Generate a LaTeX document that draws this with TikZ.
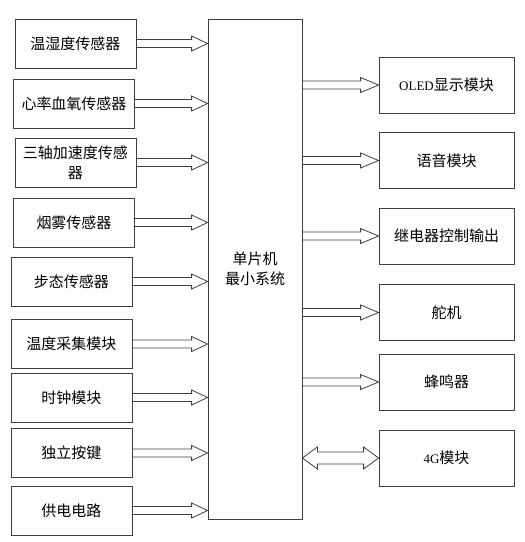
\documentclass[tikz,border=0pt]{standalone}
\usepackage{fontspec}
\setmainfont{Liberation Serif}
\newfontfamily\cjk{Noto Sans CJK SC}
\usetikzlibrary{calc}
\tikzstyle{box}=[draw=black!75, line width=0.8pt, inner sep=0pt, align=center, font=\cjk\fontsize{15}{20}\selectfont]
\tikzstyle{fat}=[draw=black!75, line width=0.8pt, line join=miter]
\newcommand{\fatarrow}[3]{%
 \draw[fat] let \p1=(#1), \p2=(#2) in
  (\x1,\y1+4pt) -- (\x2-#3,\y1+4pt) -- (\x2-#3,\y1+7.5pt) -- (\x2,\y1)
  -- (\x2-#3,\y1-7.5pt) -- (\x2-#3,\y1-4pt) -- (\x1,\y1-4pt);}
\newcommand{\dblarrow}[2]{%
 \draw[fat] let \p1=(#1), \p2=(#2) in
  (\x1,\y1) -- (\x1+15pt,\y1+11pt) -- (\x1+15pt,\y1+6pt) -- (\x2-15pt,\y1+6pt)
  -- (\x2-15pt,\y1+11pt) -- (\x2,\y1) -- (\x2-15pt,\y1-11pt) -- (\x2-15pt,\y1-6pt)
  -- (\x1+15pt,\y1-6pt) -- (\x1+15pt,\y1-11pt) -- cycle;}
\begin{document}
\begin{tikzpicture}[x=1pt,y=-1pt]
\useasboundingbox (0,0) rectangle (525,542);
\node[box, minimum width=94pt, minimum height=500pt] (mcu) at (255,269) {单片机\\最小系统};
% inputs
\foreach \i/\px/\py/\t in {1/75.5/43.5/温湿度传感器, 2/74/103.5/心率血氧传感器,
  3/75.5/162.5/{三轴加速度传感\\器}, 4/74/222.5/烟雾传感器, 5/71.5/281.5/步态传感器,
  6/71.5/344/温度采集模块, 7/71.5/397.5/时钟模块, 8/71.5/453/独立按键, 9/71.5/510.5/供电电路} {
 \node[box, minimum width=121pt, minimum height=49pt] (in\i) at (\px,\py) {\t};
 \coordinate (ti\i) at (in\i.east -| mcu.west);
 \fatarrow{in\i.east}{ti\i}{16pt}
}
% outputs
\foreach \i/\py/\t in {1/85/{{\rmfamily\fontsize{13}{15}\selectfont OLED}显示模块}, 2/160.5/语音模块,
  3/236/继电器控制输出, 4/312.5/舵机, 5/382/蜂鸣器} {
 \node[box, minimum width=135pt, minimum height=56pt] (out\i) at (446.5,\py) {\t};
 \coordinate (so\i) at (mcu.east |- out\i.west);
 \fatarrow{so\i}{out\i.west}{18pt}
}
\node[box, minimum width=135pt, minimum height=56pt] (out6) at (446.5,458) {{\rmfamily\fontsize{13}{15}\selectfont 4G}模块};
\coordinate (so6) at (mcu.east |- out6.west);
\dblarrow{so6}{out6.west}
\end{tikzpicture}
\end{document}
